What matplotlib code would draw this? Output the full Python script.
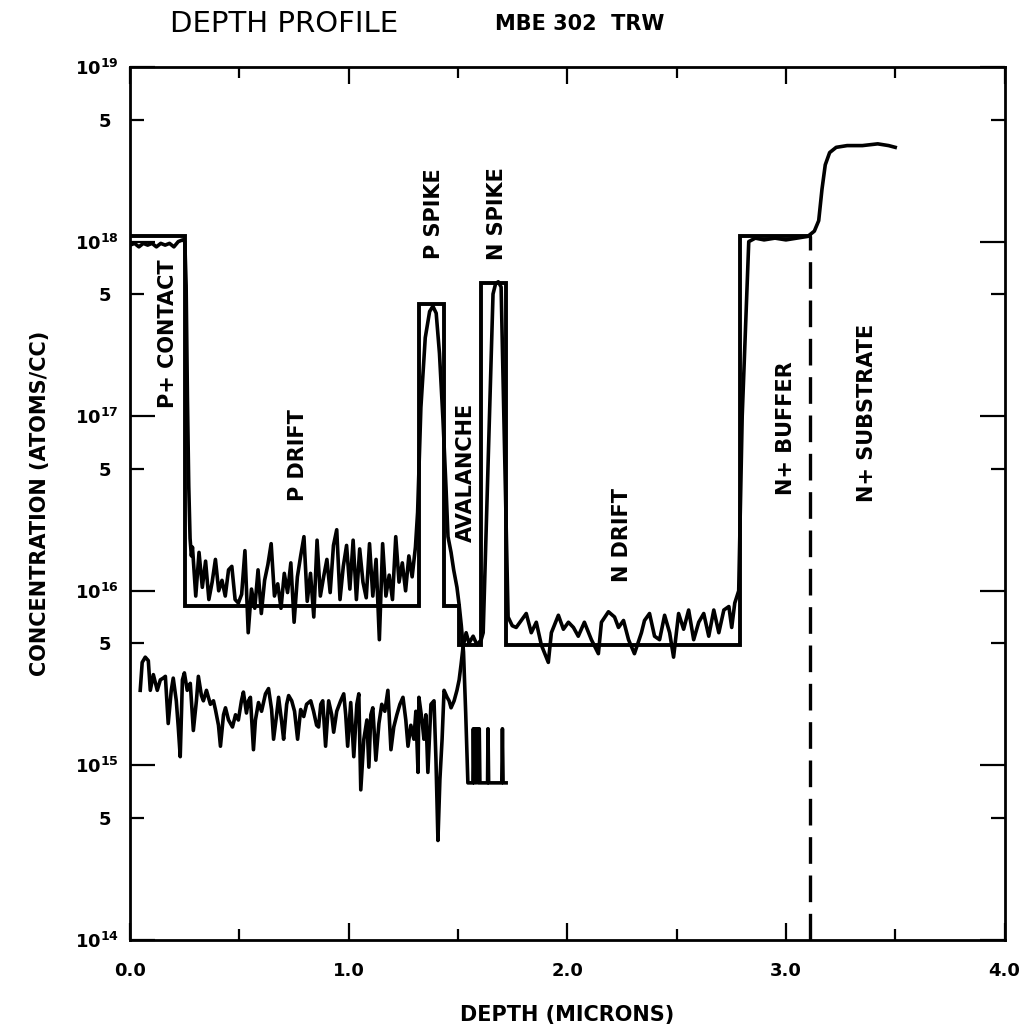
import matplotlib
matplotlib.use('Agg')
import matplotlib.pyplot as plt
import numpy as np

plt.rcParams['font.family'] = 'DejaVu Sans'
plt.rcParams['mathtext.default'] = 'bf'

# design (intended) doping profile, atoms/cc
design_x = [0.0, 0.25, 0.25, 1.32, 1.32, 1.435, 1.435, 1.505, 1.505, 1.605, 1.605, 1.72, 1.72, 2.79, 2.79, 3.11]
design_conc = [1.07e18, 1.07e18, 8.2e15, 8.2e15, 4.4e17, 4.4e17, 8.2e15, 8.2e15,
               4.9e15, 4.9e15, 5.8e17, 5.8e17, 4.9e15, 4.9e15, 1.07e18, 1.07e18]
boundary_x = 3.11  # buffer / substrate interface

# measured p-type trace (log10 atoms/cc)
p_x = [0.000, 0.020, 0.040, 0.060, 0.080, 0.100, 0.120, 0.140, 0.160, 0.180,
       0.200, 0.220, 0.240, 0.250, 0.256, 0.262, 0.268, 0.274, 0.280,
       0.285, 0.300, 0.315, 0.330, 0.345, 0.360, 0.375, 0.390, 0.405, 0.420,
       0.435, 0.450, 0.465, 0.480, 0.495, 0.510, 0.525, 0.540, 0.555, 0.570,
       0.585, 0.600, 0.615, 0.630, 0.645, 0.660, 0.675, 0.690, 0.705, 0.720,
       0.735, 0.750, 0.765, 0.780, 0.795, 0.810, 0.825, 0.840, 0.855, 0.870,
       0.885, 0.900, 0.915, 0.930, 0.945, 0.960, 0.975, 0.990, 1.005, 1.020,
       1.035, 1.050, 1.065, 1.080, 1.095, 1.110, 1.125, 1.140, 1.155, 1.170,
       1.185, 1.200, 1.215, 1.230, 1.245, 1.260, 1.275, 1.290, 1.305,
       1.315, 1.330, 1.350, 1.370, 1.385, 1.400, 1.415, 1.431, 1.445, 1.454,
       1.468, 1.480, 1.495, 1.505, 1.515, 1.525, 1.535, 1.545,
       1.568, 1.570, 1.573, 1.578, 1.582, 1.588, 1.592, 1.597, 1.600,
       1.635, 1.637, 1.640, 1.700, 1.703, 1.706, 1.720]
p_log = [17.98, 17.99, 17.97, 17.99, 17.98, 17.99, 17.97, 17.99, 17.98, 17.99,
         17.97, 18.00, 18.01, 18.00, 17.75, 17.10, 16.60, 16.30, 16.20,
         16.25, 15.97, 16.22, 16.02, 16.17, 15.95, 16.05, 16.18, 16.00, 16.06,
         15.97, 16.12, 16.14, 15.95, 15.93, 15.98, 16.23, 15.76, 16.01, 15.90,
         16.12, 15.87, 16.06, 16.15, 16.27, 15.97, 16.04, 15.90, 16.10, 15.99,
         16.16, 15.82, 16.08, 16.20, 16.31, 15.94, 16.10, 15.85, 16.29, 15.97,
         16.08, 16.18, 15.99, 16.26, 16.35, 15.95, 16.14, 16.26, 16.01, 16.29,
         15.95, 16.24, 16.05, 15.96, 16.27, 15.97, 16.18, 15.72, 16.27, 15.97,
         16.09, 15.95, 16.31, 16.05, 16.16, 16.00, 16.20, 16.08, 16.25,
         16.45, 17.05, 17.45, 17.60, 17.63, 17.59, 17.36, 16.98, 16.59, 16.31,
         16.22, 16.12, 16.02, 15.92, 15.80, 15.65, 15.30, 14.90,
         14.90, 15.21, 14.90, 15.21, 14.90, 15.21, 14.90, 15.21, 14.90,
         14.90, 15.21, 14.90, 14.90, 15.21, 14.90, 14.90]

# measured n-type trace (log10 atoms/cc)
n_x = [0.046, 0.055, 0.069, 0.083, 0.092, 0.106, 0.124, 0.138, 0.151, 0.161,
       0.174, 0.188, 0.197, 0.211, 0.220, 0.229, 0.239, 0.248, 0.261, 0.275,
       0.289, 0.303, 0.312, 0.326, 0.335, 0.349, 0.367, 0.381, 0.390, 0.404,
       0.413, 0.427, 0.436, 0.450, 0.468, 0.482, 0.495, 0.509, 0.518, 0.532,
       0.541, 0.550, 0.564, 0.573, 0.587, 0.601, 0.619, 0.633, 0.647, 0.656,
       0.670, 0.679, 0.693, 0.702, 0.716, 0.725, 0.739, 0.752, 0.766, 0.780,
       0.794, 0.807, 0.826, 0.839, 0.853, 0.862, 0.872, 0.881, 0.894, 0.908,
       0.922, 0.931, 0.945, 0.963, 0.977, 0.986, 0.995, 1.009, 1.023, 1.037,
       1.046, 1.055, 1.069, 1.083, 1.092, 1.101, 1.110, 1.124, 1.138, 1.151,
       1.165, 1.179, 1.193, 1.206, 1.220, 1.234, 1.248, 1.261, 1.271, 1.284,
       1.298, 1.307, 1.317, 1.321, 1.335, 1.344, 1.353, 1.362, 1.376, 1.390,
       1.399, 1.408, 1.417, 1.427, 1.436, 1.450, 1.459, 1.468, 1.482, 1.495,
       1.505, 1.514, 1.523,
       1.537, 1.550, 1.569, 1.587, 1.606, 1.615, 1.660, 1.672, 1.684, 1.697,
       1.729, 1.748,
       1.766, 1.812, 1.835, 1.858, 1.881, 1.913, 1.927, 1.959, 1.982, 2.005,
       2.028, 2.050, 2.078, 2.110, 2.142, 2.156, 2.188, 2.216, 2.234, 2.257,
       2.280, 2.307, 2.339, 2.353, 2.376, 2.399, 2.422, 2.445, 2.468, 2.486,
       2.509, 2.532, 2.555, 2.578, 2.601, 2.624, 2.647, 2.670, 2.693, 2.716,
       2.739, 2.752, 2.766, 2.784,
       2.800, 2.830, 2.860, 2.900, 2.950, 3.000, 3.050, 3.100, 3.130, 3.150,
       3.165, 3.180, 3.200, 3.230, 3.280, 3.350, 3.420, 3.470, 3.500]
n_log = [15.43, 15.59, 15.62, 15.60, 15.43, 15.52, 15.43, 15.49, 15.50, 15.51,
         15.24, 15.43, 15.50, 15.37, 15.22, 15.05, 15.49, 15.53, 15.43, 15.47,
         15.20, 15.37, 15.51, 15.40, 15.37, 15.43, 15.35, 15.37, 15.32, 15.23,
         15.11, 15.29, 15.33, 15.26, 15.22, 15.29, 15.26, 15.37, 15.42, 15.30,
         15.37, 15.39, 15.09, 15.26, 15.36, 15.31, 15.41, 15.44, 15.32, 15.15,
         15.29, 15.39, 15.25, 15.15, 15.35, 15.40, 15.37, 15.31, 15.15, 15.32,
         15.28, 15.35, 15.37, 15.31, 15.23, 15.22, 15.35, 15.37, 15.11, 15.37,
         15.29, 15.19, 15.31, 15.37, 15.41, 15.29, 15.11, 15.36, 15.05, 15.35,
         15.41, 14.86, 15.15, 15.26, 14.99, 15.29, 15.33, 15.03, 15.24, 15.35,
         15.31, 15.43, 15.09, 15.22, 15.29, 15.35, 15.39, 15.26, 15.11, 15.23,
         15.15, 15.31, 14.96, 15.39, 15.26, 15.15, 15.29, 14.96, 15.35, 15.37,
         15.03, 14.57, 14.92, 15.15, 15.43, 15.39, 15.37, 15.33, 15.37, 15.43,
         15.49, 15.58, 15.68,
         15.76, 15.70, 15.74, 15.69, 15.72, 15.76, 17.70, 17.76, 17.77, 17.74,
         15.85, 15.80,
         15.79, 15.87, 15.76, 15.82, 15.69, 15.59, 15.76, 15.86, 15.78, 15.82,
         15.79, 15.74, 15.82, 15.72, 15.64, 15.82, 15.88, 15.85, 15.79, 15.83,
         15.72, 15.64, 15.76, 15.83, 15.87, 15.74, 15.72, 15.86, 15.76, 15.62,
         15.87, 15.78, 15.89, 15.72, 15.82, 15.87, 15.74, 15.89, 15.76, 15.89,
         15.91, 15.79, 15.93, 16.00,
         17.00, 18.00, 18.02, 18.01, 18.02, 18.01, 18.02, 18.03, 18.06, 18.12,
         18.30, 18.44, 18.51, 18.54, 18.55, 18.55, 18.56, 18.55, 18.54]

# region labels: (text, depth, log10 conc)
region_text = ['P+ CONTACT', 'P DRIFT', 'P SPIKE', 'AVALANCHE', 'N SPIKE',
               'N DRIFT', 'N+ BUFFER', 'N+ SUBSTRATE']
region_x = [0.175, 0.77, 1.39, 1.535, 1.68, 2.25, 3.00, 3.37]
region_log = [17.47, 16.78, 18.16, 16.68, 18.16, 16.32, 16.93, 17.02]

fig = plt.figure(figsize=(10.25, 10.28), dpi=100)
ax = fig.add_axes([0.127, 0.0856, 0.853, 0.8492])
ax.set_yscale('log')
ax.set_xlim(0, 4)
ax.set_ylim(1e14, 1e19)

ax.plot(design_x, design_conc, color='black', lw=2.8, solid_joinstyle='miter')
ax.plot(p_x, 10 ** np.array(p_log), color='black', lw=2.6)
ax.plot(n_x, 10 ** np.array(n_log), color='black', lw=2.6)
ax.plot([boundary_x, boundary_x], [1e14, design_conc[-1]], color='black',
        lw=2.4, ls=(0, (8, 3.5)))

for s, x, y in zip(region_text, region_x, region_log):
    ax.text(x, 10 ** y, s, rotation=90, ha='center', va='center',
            fontsize=15, fontweight='bold')

# ticks
ax.set_xticks([0, 1, 2, 3, 4], labels=['0.0', '1.0', '2.0', '3.0', '4.0'])
ax.set_xticks([0.5, 1.5, 2.5, 3.5], minor=True)
ax.set_yticks([1e14, 1e15, 1e16, 1e17, 1e18, 1e19],
              labels=[r'$10^{14}$', r'$10^{15}$', r'$10^{16}$', r'$10^{17}$',
                      r'$10^{18}$', r'$10^{19}$'])
ax.set_yticks([5e14, 5e15, 5e16, 5e17, 5e18], labels=['5'] * 5, minor=True)
ax.tick_params(which='both', direction='in', top=True, right=True, width=1.6,
               labelsize=13)
ax.tick_params(axis='x', which='major', length=12, pad=16)
ax.tick_params(axis='x', which='minor', length=8)
ax.tick_params(axis='y', which='major', length=18, pad=8)
ax.tick_params(axis='y', which='minor', length=10, pad=14)
for lab in ax.get_xticklabels() + ax.get_yticklabels(minor=True):
    lab.set_fontweight('bold')
for sp in ax.spines.values():
    sp.set_linewidth(2)

ax.set_xlabel('DEPTH (MICRONS)', fontsize=15, fontweight='bold', labelpad=18)
ax.set_ylabel('CONCENTRATION (ATOMS/CC)', fontsize=15, fontweight='bold', labelpad=18)

fig.text(170 / 1025, 1 - 24 / 1028, 'DEPTH PROFILE', fontsize=21, va='center')
fig.text(495 / 1025, 1 - 24 / 1028, 'MBE 302  TRW', fontsize=15,
         fontweight='bold', va='center')

fig.savefig('out.png', dpi=100)
